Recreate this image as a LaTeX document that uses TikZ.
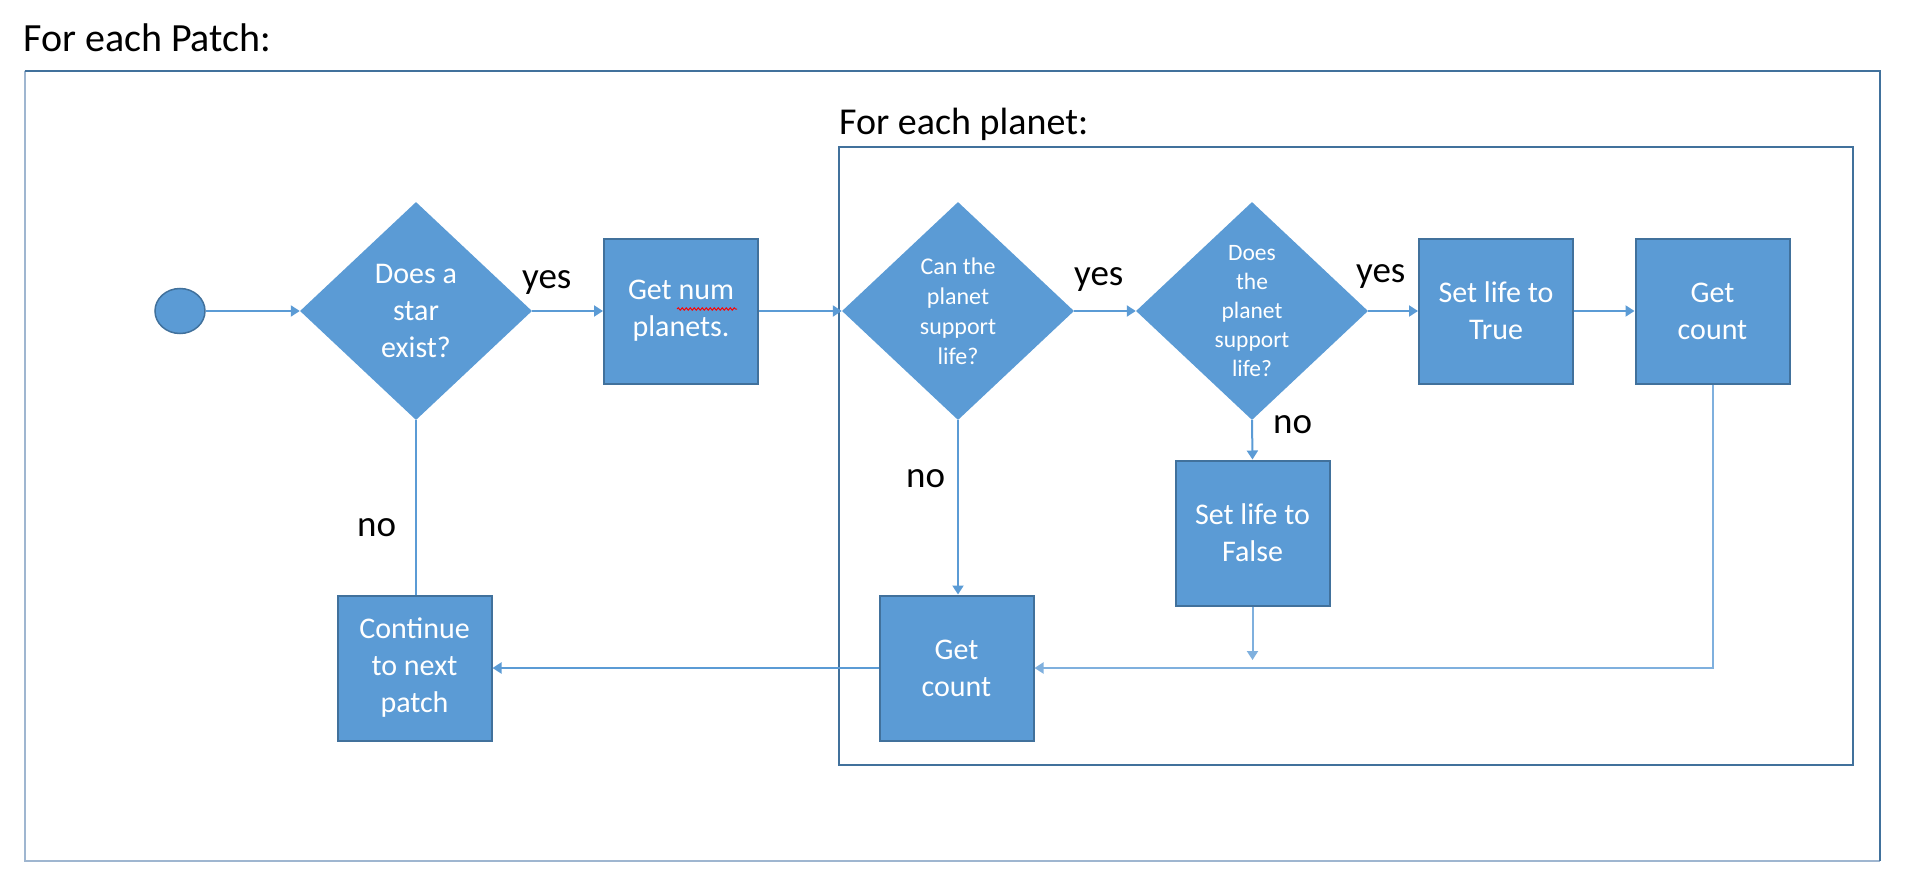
\documentclass[tikz,border=0pt]{standalone}
\usepackage{fontspec}
\setmainfont{Carlito}
\usetikzlibrary{shapes.geometric,arrows.meta,decorations.pathmorphing}
\definecolor{fillb}{HTML}{5B9BD5}
\definecolor{edgeb}{HTML}{41719C}
\definecolor{lineb}{HTML}{5B9BD5}
\definecolor{lightb}{HTML}{7FB0DE}
\definecolor{frameb}{HTML}{41719C}
\definecolor{framel}{HTML}{9FB6D0}
\begin{document}
\begin{tikzpicture}[x=1pt,y=-1pt,
 proc/.style={draw=edgeb, line width=2pt, fill=fillb, text=white, minimum width=154pt, minimum height=145pt, inner sep=0pt, align=center, font=\fontsize{30}{37}\selectfont},
 dec/.style={diamond, draw=none, fill=fillb, text=white, minimum width=232pt, minimum height=218pt, inner sep=0pt, align=center},
 conn/.style={draw=lineb, line width=2pt},
 arr/.style={conn, -{Triangle[length=9pt,width=11pt]}},
 lbl/.style={anchor=base west, inner sep=0pt, font=\fontsize{37}{44}\selectfont},
 ttl/.style={anchor=base west, inner sep=0pt},
]
\useasboundingbox (0,0) rectangle (1916,888);
% frames
\draw[framel, line width=2pt] (24.5,70.7) -- (24.5,860.7) -- (1879.6,860.7);
\draw[frameb, line width=2pt] (24.5,70.7) -- (1879.6,70.7) -- (1879.6,860.7);
\draw[frameb, line width=2pt] (839,146.7) rectangle (1853,765);
\node[ttl, font=\fontsize{40}{48}\selectfont] (t1) at (23,52) {For each Patch:};
\node[ttl, font=\fontsize{38}{46}\selectfont] (t2) at (839,135) {For each planet:};
% nodes
\node[ellipse, fill=fillb, draw=edgeb, line width=1.5pt, minimum width=50pt, minimum height=45pt, inner sep=0pt] (start) at (180,311) {};
\node[dec, font=\fontsize{30}{37}\selectfont] (d1) at (416,311) {Does a\\star\\exist?};
\node[proc] (gnp) at (681,311) {Get num\\planets.};
\node[dec, font=\fontsize{24}{30}\selectfont] (d2) at (958,311) {Can the\\planet\\support\\life?};
\node[dec, font=\fontsize{23.5}{29}\selectfont] (d3) at (1252,311) {Does\\the\\planet\\support\\life?};
\node[proc] (tru) at (1496,311) {Set life to\\True};
\node[proc] (cnt1) at (1712.5,311) {Get\\count};
\node[proc] (fls) at (1252.5,533) {Set life to\\False};
\node[proc] (cnt2) at (956.5,668) {Get\\count};
\node[proc] (cont) at (414.5,668) {Continue\\to next\\patch};
\coordinate (fend) at (1252.5,660);
% spell-check squiggle
\draw[red, line width=1pt, decorate, decoration={snake, amplitude=1.2pt, segment length=4pt}] (677,309) -- (737,309);
% connectors
\draw[arr] (start) -- (d1.west);
\draw[arr] (d1.east) -- (gnp.west);
\draw[arr] (gnp.east) -- (d2.west);
\draw[arr] (d2.east) -- (d3.west);
\draw[arr] (d3.east) -- (tru.west);
\draw[arr] (tru.east) -- (cnt1.west);
\draw[arr, draw=lightb] (cnt1.south) -- (cnt1.south |- cnt2.east) -- (cnt2.east);
\draw[arr] (d3.south) -- (fls.north);
\draw[arr, draw=lightb] (fls.south) -- (fend);
\draw[arr] (d2.south) -- (d2.south |- cnt2.north);
\draw[arr] (cnt2.west) -- (cont.east);
\draw[conn] (d1.south) -- (d1.south |- cont.north);
% labels
\node[lbl] (y1) at (522,288) {yes};
\node[lbl] (y2) at (1074,285) {yes};
\node[lbl] (y3) at (1356,282) {yes};
\node[lbl] (n3) at (1273,433) {no};
\node[lbl] (n2) at (906,487) {no};
\node[lbl] (n1) at (357,536) {no};
\end{tikzpicture}
\end{document}
